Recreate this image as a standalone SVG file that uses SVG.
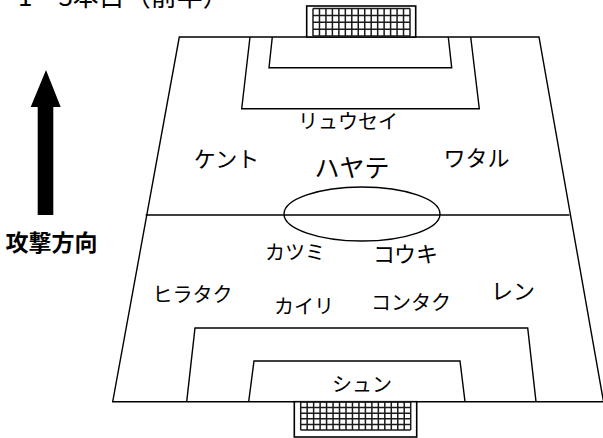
<svg xmlns="http://www.w3.org/2000/svg" width="603" height="438" viewBox="0 0 603 438">
<style>
.ln{fill:none;stroke:#000;stroke-width:1.4}
.net{fill:none;stroke:#1a1a1a;stroke-width:1.5}
.gb{fill:#fff;stroke:#000;stroke-width:1.6}
.t{font-family:"Noto Sans CJK JP","Noto Sans",sans-serif;fill:#000;text-anchor:middle}
</style>
<rect width="603" height="438" fill="#fff"/>
<text x="18" y="6" style="font-family:'Noto Sans CJK JP',sans-serif;font-size:26px">1－3本目（前半）</text>
<g id="arrow">
<polygon points="46,70 30.7,107 37.7,107 37.7,215 53.3,215 53.3,107 60.7,107" fill="#000"/>
<text class="t" x="51.5" y="251" style="font-size:23px;font-weight:bold">攻撃方向</text>
</g>
<g id="field">
<polygon class="ln" points="179.3,37 539,37 603.5,401.7 112.7,401.7"/>
<line class="ln" x1="145.7" y1="215" x2="569.5" y2="215"/>
<ellipse class="ln" cx="362" cy="214" rx="78" ry="27"/>
<polyline class="ln" points="250,37 241.7,108.7 479.3,108.7 470.7,37"/>
<polyline class="ln" points="272.3,37 269,67.7 451.7,67.7 448.3,37"/>
<polyline class="ln" points="186.7,401.7 195,328 527.7,328 536,401.7"/>
<polyline class="ln" points="248.7,401.7 254,361 460,361 465,401.7"/>
</g>
<g id="goal-top">
<rect class="gb" x="306.7" y="6" width="109" height="31"/>
<path class="net" d="M313,8.5V36M319.47,8.5V36M325.93,8.5V36M332.4,8.5V36M338.87,8.5V36M345.33,8.5V36M351.8,8.5V36M358.27,8.5V36M364.73,8.5V36M371.2,8.5V36M377.67,8.5V36M384.13,8.5V36M390.6,8.5V36M397.07,8.5V36M403.53,8.5V36M410,8.5V36M313,8.5H410M313,15.375H410M313,22.25H410M313,29.125H410M313,36H410"/>
</g>
<g id="goal-bottom">
<rect class="gb" x="294.3" y="401.7" width="122.4" height="35.3"/>
<path class="net" d="M300.7,402V430M307.17,402V430M313.64,402V430M320.11,402V430M326.58,402V430M333.05,402V430M339.52,402V430M345.99,402V430M352.46,402V430M358.94,402V430M365.41,402V430M371.88,402V430M378.35,402V430M384.82,402V430M391.29,402V430M397.76,402V430M404.23,402V430M410.7,402V430M300.7,402H410.7M300.7,407.6H410.7M300.7,413.2H410.7M300.7,418.8H410.7M300.7,424.4H410.7M300.7,430H410.7"/>
</g>
<g id="players">
<text id="p-ryusei" class="t" x="348" y="129" style="font-size:20px">リュウセイ</text>
<text id="p-kento" class="t" x="226.5" y="167" style="font-size:22px">ケント</text>
<text id="p-hayate" class="t" x="352" y="177" style="font-size:25px">ハヤテ</text>
<text id="p-wataru" class="t" x="476.5" y="166" style="font-size:22px">ワタル</text>
<text id="p-katsumi" class="t" x="295" y="260" style="font-size:20px">カツミ</text>
<text id="p-kouki" class="t" x="405.5" y="262" style="font-size:22px">コウキ</text>
<text id="p-hirataku" class="t" x="192.5" y="302" style="font-size:20px">ヒラタク</text>
<text id="p-kairi" class="t" x="304" y="314" style="font-size:20px">カイリ</text>
<text id="p-kontaku" class="t" x="411" y="310" style="font-size:20px">コンタク</text>
<text id="p-ren" class="t" x="513" y="299" style="font-size:22px">レン</text>
<text id="p-shun" class="t" x="362" y="392" style="font-size:20px">シュン</text>
</g>
</svg>
